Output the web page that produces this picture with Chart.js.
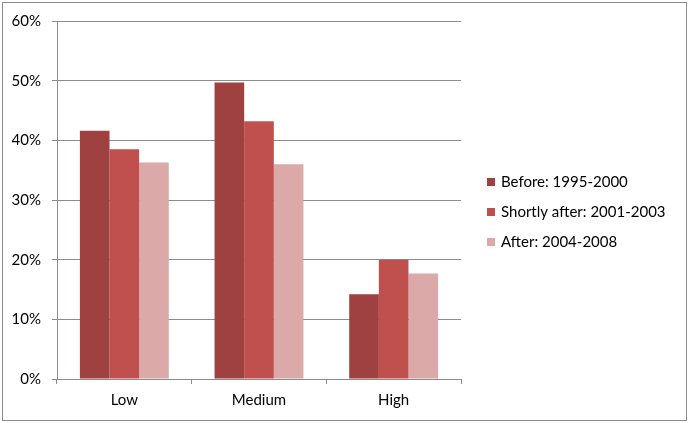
<!DOCTYPE html>
<html>
<head>
<meta charset="utf-8">
<script src="https://cdn.jsdelivr.net/npm/chart.js@4"></script>
<style>
  html, body { margin: 0; padding: 0; background: #fff; }
  #wrap { width: 689px; height: 423px; }
</style>
</head>
<body>
<div id="wrap"><canvas id="chart" width="689" height="423"></canvas></div>
<script>
// --- data ---
const categories = ['Low', 'Medium', 'High'];
const seriesNames = ['Before: 1995-2000', 'Shortly after: 2001-2003', 'After: 2004-2008'];
const before = [0.416, 0.497, 0.142];
const shortlyAfter = [0.385, 0.432, 0.200];
const after = [0.363, 0.360, 0.177];
const yTicks = [0, 0.1, 0.2, 0.3, 0.4, 0.5, 0.6];

const colors = ['#9E4140', '#C0504D', '#DAA9A8'];
const gridGray = '#8C8C8C';
const FONT = "Lato, 'Open Sans', sans-serif";

// frame around the whole picture
const framePlugin = {
  id: 'frame',
  beforeDraw(chart) {
    const c = chart.ctx;
    c.save();
    c.fillStyle = '#fff';
    c.fillRect(0, 0, chart.width, chart.height);
    c.strokeStyle = gridGray;
    c.lineWidth = 1;
    c.strokeRect(2.5, 2.5, chart.width - 5, chart.height - 5);
    c.restore();
  }
};

// legend on the right, Excel-style
const sideLegend = {
  id: 'sideLegend',
  afterDraw(chart) {
    const c = chart.ctx;
    c.save();
    c.font = '15px ' + FONT;
    c.textBaseline = 'middle';
    chart.data.datasets.forEach((ds, i) => {
      const y = 182 + i * 30;
      c.fillStyle = ds.backgroundColor;
      c.fillRect(487, y - 4, 8, 8);
      c.fillStyle = '#000';
      c.fillText(ds.label, 501, y);
    });
    c.restore();
  }
};

const chart = new Chart(document.getElementById('chart'), {
  type: 'bar',
  data: {
    labels: categories,
    datasets: [
      { label: seriesNames[0], data: before, backgroundColor: colors[0] },
      { label: seriesNames[1], data: shortlyAfter, backgroundColor: colors[1] },
      { label: seriesNames[2], data: after, backgroundColor: colors[2] }
    ]
  },
  options: {
    responsive: false,
    animation: false,
    layout: { padding: { left: 12, top: 21, right: 228, bottom: 3 } },
    datasets: { bar: { categoryPercentage: 0.66, barPercentage: 1.0 } },
    plugins: {
      legend: { display: false },
      tooltip: { enabled: false }
    },
    scales: {
      x: {
        afterFit: s => { s.height = 41; },
        grid: {
          offset: true,
          drawOnChartArea: false,
          color: gridGray,
          tickLength: 5
        },
        border: { color: gridGray },
        ticks: { color: '#000', padding: 7, font: { family: FONT, size: 15 } }
      },
      y: {
        min: 0,
        max: 0.6,
        afterFit: s => { s.width = 45; },
        afterBuildTicks: s => { s.ticks = yTicks.map(v => ({ value: v })); },
        grid: { color: gridGray, tickLength: 5 },
        border: { color: gridGray },
        ticks: {
          color: '#000',
          padding: 11,
          font: { family: FONT, size: 15 },
          callback: v => Math.round(v * 100) + '%'
        }
      }
    }
  },
  plugins: [framePlugin, sideLegend]
});
</script>
</body>
</html>
